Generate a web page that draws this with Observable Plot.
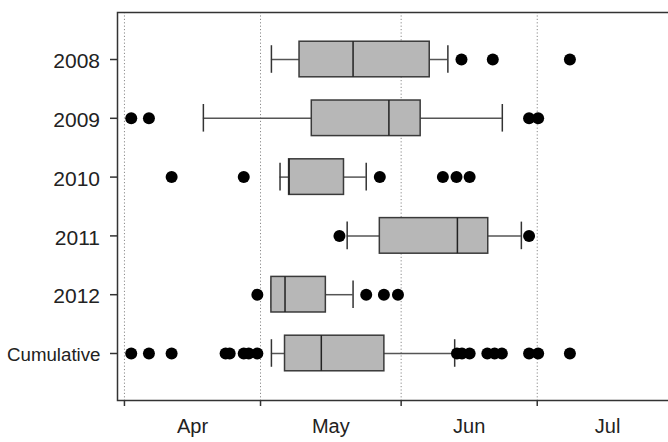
<!DOCTYPE html>
<html>
<head>
<meta charset="utf-8">
<script src="https://cdn.jsdelivr.net/npm/d3@7"></script>
<script src="https://cdn.jsdelivr.net/npm/@observablehq/plot@0.6"></script>
<style>
  html, body { margin: 0; padding: 0; background: white; overflow: hidden; }
  #chart { width: 668px; height: 442px; overflow: hidden; }
  #chart svg { max-width: none !important; }
</style>
</head>
<body>
<div id="chart"></div>
<script>
// Categories (rows, top to bottom)
const categories = ["2008", "2009", "2010", "2011", "2012", "Cumulative"];

// Box statistics, x in day of year (non-leap year: Apr 1 = 91)
const lowerWhisker = [123.4, 108.4, 125.3, 140.1, 123.4, 123.4];
const q1           = [129.6, 132.3, 127.3, 147.3, 123.4, 126.4];
const median       = [141.4, 149.3, 127.3, 164.4, 126.4, 134.4];
const q3           = [158.3, 156.3, 139.4, 171.2, 135.4, 148.3];
const upperWhisker = [162.3, 174.3, 144.3, 178.5, 141.4, 163.8];

// Outliers per row
const outliers = [
  [165.3, 172.2, 189.2],
  [92.5, 96.4, 180.2, 182.2],
  [101.4, 117.3, 147.3, 161.2, 164.2, 167.1],
  [138.4, 180.2],
  [120.3, 144.3, 148.2, 151.3],
  [92.5, 96.4, 101.4, 113.3, 114.2, 117.3, 118.4, 120.3,
   164.3, 165.4, 167.1, 171.0, 172.6, 174.2, 180.2, 182.2, 189.2]
];

// Month boundaries (day of year) and labels
const monthStarts = [91, 121, 152, 182, 213];
const monthLabels = ["Apr", "May", "Jun", "Jul"];

// The plot area continues past the right edge of the picture
const xDomain = [89.47, 212.7];

const rows = categories.map((c, i) => ({
  cat: c, lo: lowerWhisker[i], q1: q1[i], med: median[i], q3: q3[i], hi: upperWhisker[i]
}));
const outlierRows = outliers.flatMap((arr, i) => arr.map(v => ({cat: categories[i], v})));
const gridTicks = monthStarts.filter(d => d >= xDomain[0] && d <= 210);
const mids = monthLabels.map((m, i) => (monthStarts[i] + monthStarts[i + 1]) / 2);
const labelAt = new Map(mids.map((m, i) => [m, monthLabels[i]]));

const years = categories.filter(c => c !== "Cumulative");

const chart = Plot.plot({
  width: 676,
  height: 442,
  marginTop: 12,
  marginBottom: 42,
  marginLeft: 117,
  marginRight: 0,
  style: {fontFamily: "'Liberation Sans', Arial, sans-serif", fontSize: "20px", color: "#222", background: "white", maxWidth: "none"},
  x: {domain: xDomain},
  y: {domain: categories, paddingInner: 0.395, paddingOuter: 0.497, align: 0.5, round: false},
  marks: [
    Plot.ruleX(gridTicks, {stroke: "#8a8a8a", strokeDasharray: "1.2,2.2", strokeWidth: 1}),
    Plot.ruleY(rows, {y: "cat", x1: "lo", x2: "q1", stroke: "#555", strokeWidth: 1.5}),
    Plot.ruleY(rows, {y: "cat", x1: "q3", x2: "hi", stroke: "#555", strokeWidth: 1.5}),
    Plot.tickX(rows, {x: "lo", y: "cat", insetTop: 4, insetBottom: 4, stroke: "#333", strokeWidth: 1.5}),
    Plot.tickX(rows, {x: "hi", y: "cat", insetTop: 4, insetBottom: 4, stroke: "#333", strokeWidth: 1.5}),
    Plot.barX(rows, {x1: "q1", x2: "q3", y: "cat", fill: "#b7b7b7", stroke: "#3a3a3a", strokeWidth: 1.5}),
    Plot.tickX(rows, {x: "med", y: "cat", stroke: "#222", strokeWidth: 1.5}),
    Plot.dot(outlierRows, {x: "v", y: "cat", r: 6, fill: "black", stroke: "none"}),
    Plot.frame({stroke: "#333", strokeWidth: 1.5}),
    Plot.axisY({tickSize: 7, tickFormat: () => "", label: null, stroke: "#333", strokeWidth: 1.5}),
    Plot.text(years, {y: d => d, x: xDomain[0], dx: -17.5, dy: 2, textAnchor: "end", fontSize: 21, fill: "#222"}),
    Plot.text(["Cumulative"], {y: d => d, x: xDomain[0], dx: -17, dy: 2, textAnchor: "end", fontSize: 18.7, fill: "#222"}),
    Plot.axisX(gridTicks, {tickSize: 6, tickFormat: () => "", label: null, stroke: "#333", strokeWidth: 1.5}),
    Plot.axisX(mids, {tickSize: 0, tickPadding: 18, tickFormat: d => labelAt.get(d), label: null, fontSize: 20})
  ]
});
document.getElementById("chart").appendChild(chart);
</script>
</body>
</html>
